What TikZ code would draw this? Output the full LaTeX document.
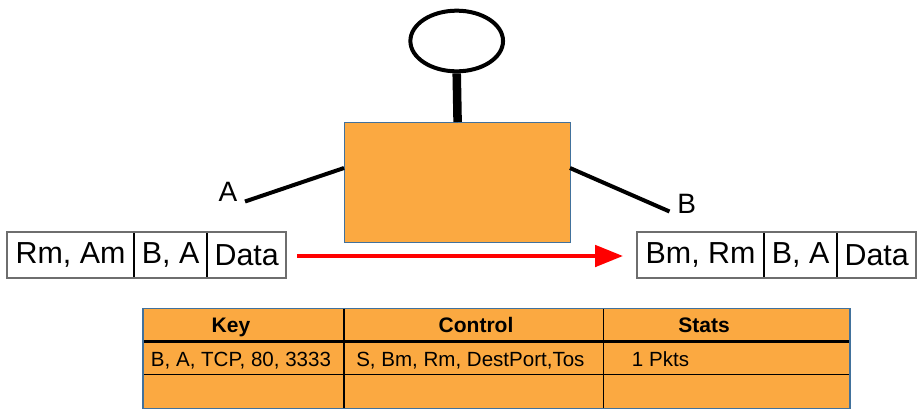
\documentclass[tikz,border=0pt]{standalone}
\usepackage{fontspec}
\setmainfont{Liberation Sans}
\usetikzlibrary{arrows.meta,shapes.geometric,calc}
\definecolor{sworange}{RGB}{251,169,65}
\definecolor{swedge}{RGB}{65,113,156}
\definecolor{pktgray}{RGB}{110,110,110}
\begin{document}
\begin{tikzpicture}[x=0.75pt,y=-0.75pt,
  thickline/.style={line width=3pt,black},
  pktcell/.style={draw=black,line width=0.8pt,minimum height=33.5pt,inner sep=0pt,
    font=\fontsize{22.8}{27}\selectfont,anchor=west},
  pktframe/.style={draw=pktgray,line width=1.4pt},
  hdrtxt/.style={font=\fontsize{15.75}{18}\selectfont\bfseries,anchor=base,inner sep=0pt},
  celltxt/.style={font=\fontsize{15.4}{18}\selectfont,anchor=base west,inner sep=0pt},
  lbl/.style={font=\fontsize{21}{24}\selectfont,anchor=base,inner sep=0pt}]
\useasboundingbox (0,0) rectangle (923,415);

% switch box and controller
\node[draw=swedge,fill=sworange,line width=0.9pt,minimum width=169.5pt,minimum height=90pt,
  inner sep=0pt,anchor=north west] (sw) at (344,122) {};
\node[draw=black,line width=3pt,ellipse,minimum width=69.5pt,minimum height=45.5pt,inner sep=0pt]
  (ctl) at (456.7,41) {};
\draw[black,line width=6.4pt] (ctl.south) -- (sw.north);

% ports
\coordinate (pa) at (344,168);
\coordinate (pb) at (570,168);
\coordinate (ea) at (245,201.5);
\coordinate (eb) at (669.5,211.5);
\draw[thickline] (ea) -- (pa);
\draw[thickline] (pb) -- (eb);
\node[lbl] (la) at (228,201.7) {A};
\node[lbl] (lb) at (686.7,213.3) {B};

% packets
\node[pktcell,minimum width=94.5pt] (l1) at (7,255) {Rm, Am};
\node[pktcell,minimum width=54pt] (l2) at (l1.east) {B, A};
\node[pktcell,minimum width=58.5pt] (l3) at (l2.east) {Data};
\draw[pktframe] (l1.north west) rectangle (l3.south east);

\node[pktcell,minimum width=94.5pt] (r1) at (637,255) {Bm, Rm};
\node[pktcell,minimum width=54pt] (r2) at (r1.east) {B, A};
\node[pktcell,minimum width=58.5pt] (r3) at (r2.east) {Data};
\draw[pktframe] (r1.north west) rectangle (r3.south east);

% red arrow
\coordinate (as) at (297,256);
\coordinate (ae) at (623,256);
\draw[red,line width=3pt,-{Triangle[length=21pt,width=16pt]}] (as) -- (ae);

% flow table
\node[fill=sworange,minimum width=529.9pt,minimum height=74.55pt,inner sep=0pt,
  anchor=north west] (tbl) at (143,308.3) {};
\draw[black,line width=0.9pt] (344,308.3) -- (344,407.7);
\draw[black,line width=0.9pt] (603.3,308.3) -- (603.3,407.7);
\draw[black,line width=0.9pt] (143,374.3) -- (849.5,374.3);
\draw[black,line width=2.4pt] (143,341.3) -- (849.5,341.3);
\draw[swedge,line width=1pt] (tbl.north west) rectangle (tbl.south east);

\node[hdrtxt] (hk) at (231,332.3) {Key};
\node[hdrtxt] (hc) at (476,332.3) {Control};
\node[hdrtxt] (hs) at (704,332.3) {Stats};
\node[celltxt] (ck) at (150.7,366.7) {B, A, TCP, 80, 3333};
\node[celltxt] (cc) at (356,366.7) {S, Bm, Rm, DestPort,Tos};
\node[celltxt] (cs) at (631.7,366.7) {1 Pkts};
\end{tikzpicture}
\end{document}
